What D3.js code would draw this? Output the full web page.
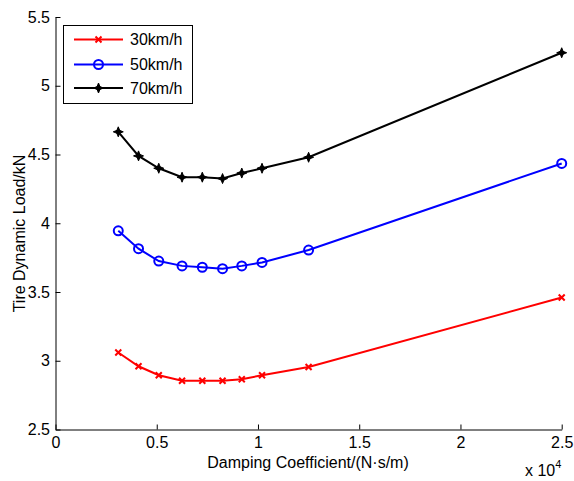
<!DOCTYPE html>
<html><head><meta charset="utf-8">
<script src="https://cdn.jsdelivr.net/npm/d3@7"></script>
<style>body{margin:0;background:#fff}svg{display:block}text{font-family:"Liberation Sans",Arial,sans-serif}</style>
</head><body><svg id="c" width="574" height="481"></svg>
<script>
const damping = [3100, 4100, 5100, 6250, 7250, 8250, 9200, 10200, 12500, 25000];
const load30 = [3.06, 2.96, 2.895, 2.855, 2.855, 2.855, 2.865, 2.895, 2.955, 3.46];
const load50 = [3.945, 3.815, 3.725, 3.69, 3.68, 3.67, 3.69, 3.715, 3.805, 4.435];
const load70 = [4.665, 4.49, 4.40, 4.335, 4.335, 4.325, 4.365, 4.40, 4.48, 5.24];
const seriesNames = ["30km/h", "50km/h", "70km/h"];
const xTicks = [0, 5000, 10000, 15000, 20000, 25000];
const xTickLabels = ["0", "0.5", "1", "1.5", "2", "2.5"];
const yTicks = [2.5, 3, 3.5, 4, 4.5, 5, 5.5];
const yTickLabels = ["2.5", "3", "3.5", "4", "4.5", "5", "5.5"];

const svg = d3.select("#c");
const L = 55.5, R = 561.7, T = 17, B = 429.5;
const x = d3.scaleLinear().domain([0, 25000]).range([L, R]);
const y = d3.scaleLinear().domain([2.5, 5.5]).range([B, T]);

const FS = 16;
const xAxis = d3.axisBottom(x).tickValues(xTicks).tickFormat((d,i)=>xTickLabels[i]).tickSizeInner(-5).tickSizeOuter(0).tickPadding(7.5);
const yAxis = d3.axisLeft(y).tickValues(yTicks).tickFormat((d,i)=>yTickLabels[i]).tickSizeInner(-5).tickSizeOuter(0).tickPadding(5.5);
const gx = svg.append("g").attr("transform", `translate(0,${B})`).call(xAxis);
const gy = svg.append("g").attr("transform", `translate(${L},0)`).call(yAxis);
[gx, gy].forEach(g => {
  g.attr("font-size", FS).attr("font-family", null);
  g.selectAll("path,line").attr("stroke", "#000").attr("stroke-width", 1);
  g.selectAll("text").attr("font-size", FS).attr("fill", "#000");
});
gx.selectAll("text").attr("dy", "0.71em");

svg.append("text").attr("x", 308).attr("y", 468).attr("text-anchor", "middle").attr("font-size", FS).text("Damping Coefficient/(N·s/m)");
svg.append("text").attr("transform", "translate(25,233.5) rotate(-90)").attr("text-anchor", "middle").attr("font-size", FS).text("Tire Dynamic Load/kN");
const ex = svg.append("text").attr("x", 525).attr("y", 476).attr("font-size", FS);
ex.append("tspan").text("x 10");
ex.append("tspan").attr("font-size", 11).attr("dy", -8).text("4");

const colors = ["#ff0000", "#0000ff", "#000000"];
const allData = [load30, load50, load70];
const line = d3.line().x(d => x(d[0])).y(d => y(d[1]));

function drawMarker(g, type, cx, cy, color) {
  if (type === 0) {
    const s = 3;
    g.append("path").attr("d", `M${cx-s},${cy-s}L${cx+s},${cy+s}M${cx-s},${cy+s}L${cx+s},${cy-s}`)
      .attr("stroke", color).attr("stroke-width", 2).attr("fill", "none");
  } else if (type === 1) {
    g.append("circle").attr("cx", cx).attr("cy", cy).attr("r", 4.5).attr("fill", "none").attr("stroke", color).attr("stroke-width", 2);
  } else {
    const s = 5, w = 2;
    g.append("path").attr("d", `M${cx},${cy-s}L${cx+w},${cy}L${cx},${cy+s}L${cx-w},${cy}Z M${cx-s},${cy}L${cx},${cy-w}L${cx+s},${cy}L${cx},${cy+w}Z`)
      .attr("fill", color).attr("stroke", color).attr("stroke-width", 1);
  }
}

allData.forEach((vals, i) => {
  const pts = damping.map((d, j) => [d, vals[j]]);
  const g = svg.append("g");
  g.append("path").attr("d", line(pts)).attr("fill", "none").attr("stroke", colors[i]).attr("stroke-width", 2);
  pts.forEach(p => drawMarker(g, i, x(p[0]), y(p[1]), colors[i]));
});

// legend
const lg = svg.append("g");
lg.append("rect").attr("x", 63.5).attr("y", 25.5).attr("width", 129).attr("height", 78).attr("fill", "#fff").attr("stroke", "#000").attr("stroke-width", 1);
const rowsY = [39.5, 64.5, 88];
seriesNames.forEach((n, i) => {
  lg.append("line").attr("x1", 74).attr("x2", 123).attr("y1", rowsY[i]).attr("y2", rowsY[i]).attr("stroke", colors[i]).attr("stroke-width", 2);
  drawMarker(lg, i, 98.5, rowsY[i], colors[i]);
  lg.append("text").attr("x", 130).attr("y", rowsY[i]).attr("dy", "0.36em").attr("font-size", FS).text(n);
});
</script></body></html>
